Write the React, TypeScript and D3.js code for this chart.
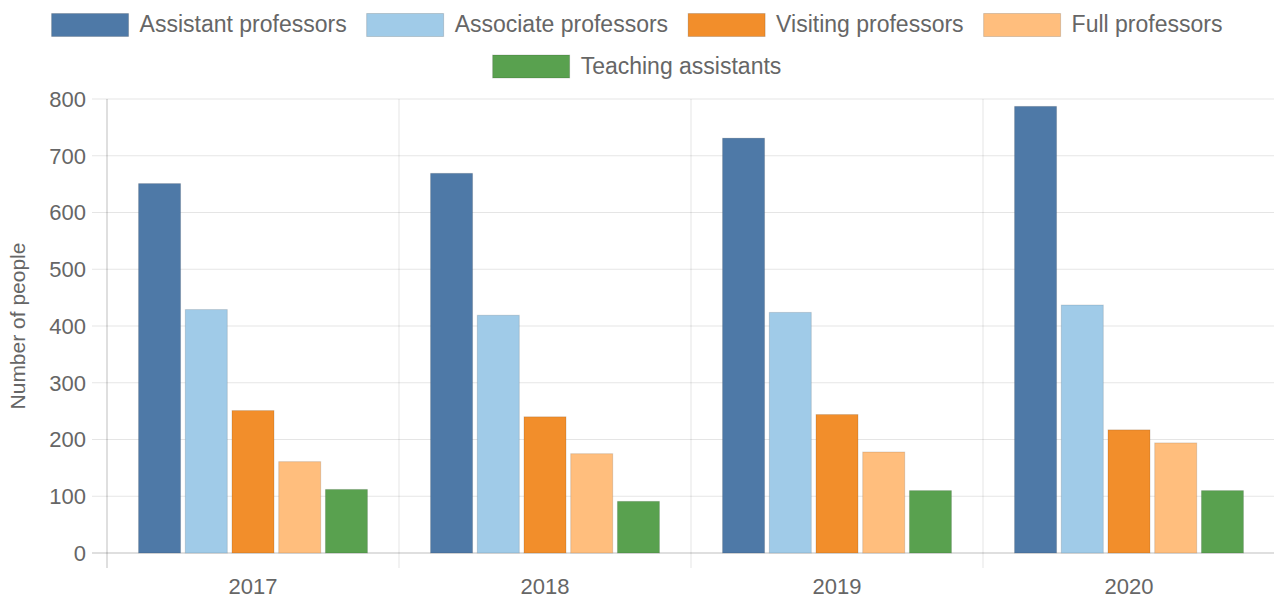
import React, { useMemo } from "react";
import * as d3 from "d3";

const years = ["2017", "2018", "2019", "2020"];
const seriesNames = [
  "Assistant professors",
  "Associate professors",
  "Visiting professors",
  "Full professors",
  "Teaching assistants",
];
const seriesColors = ["#4e79a7", "#a0cbe8", "#f28e2b", "#ffbe7d", "#59a14f"];
const assistant = [651, 669, 731, 787];
const associate = [429, 419, 424, 437];
const visiting = [251, 240, 244, 217];
const full = [161, 175, 178, 194];
const teaching = [112, 91, 110, 110];
const yTicks = [0, 100, 200, 300, 400, 500, 600, 700, 800];
const yTitle = "Number of people";

const W = 1274;
const H = 598;
const FONT = "'Liberation Sans', Arial, Helvetica, sans-serif";
const TEXT = "#666";

function measure(text: string, size: number): number {
  if (typeof document === "undefined") return text.length * size * 0.5;
  const c = document.createElement("canvas").getContext("2d");
  if (!c) return text.length * size * 0.5;
  c.font = `${size}px ${FONT}`;
  return c.measureText(text).width;
}

export default function App() {
  const values = [assistant, associate, visiting, full, teaching];
  const left = 107;
  const right = 1275;
  const top = 99;
  const bottom = 553;

  const x0 = d3.scaleBand<string>().domain(years).range([left, right]).paddingInner(0).paddingOuter(0);
  const groupW = x0.bandwidth() * 0.8;
  const x1 = d3
    .scaleBand<string>()
    .domain(seriesNames)
    .range([0, groupW])
    .paddingInner(0.1)
    .paddingOuter(0.05);
  const y = d3.scaleLinear().domain([0, 800]).range([bottom, top]);

  const legendFont = 23;
  const boxW = 77;
  const boxH = 23;
  const textGap = 11;
  const itemGap = 20;
  const rows = [seriesNames.slice(0, 4), seriesNames.slice(4)];
  const legendRows = useMemo(
    () =>
      rows.map((r) => {
        const widths = r.map((n) => boxW + textGap + measure(n, legendFont));
        const total = widths.reduce((a, b) => a + b, 0) + itemGap * (r.length - 1);
        let cx = (W - total) / 2;
        return r.map((n, i) => {
          const item = { name: n, x: cx };
          cx += widths[i] + itemGap;
          return item;
        });
      }),
    []
  );
  const rowY = [13.5, 55];

  const tickFont = 22;

  return (
    <svg
      width={W}
      height={H}
      style={{ position: "absolute", left: 0, top: 0, background: "#fff" }}
      fontFamily={FONT}
    >
      {/* legend */}
      {legendRows.map((r, ri) =>
        r.map((it) => {
          const si = seriesNames.indexOf(it.name);
          return (
            <g key={it.name}>
              <rect
                x={it.x}
                y={rowY[ri]}
                width={boxW}
                height={boxH}
                fill={seriesColors[si]}
                stroke="rgba(0,0,0,0.15)"
                strokeWidth={1}
              />
              <text
                x={it.x + boxW + textGap}
                y={rowY[ri] + boxH / 2 - 1}
                dy="0.36em"
                fontSize={legendFont}
                fill={TEXT}
              >
                {it.name}
              </text>
            </g>
          );
        })
      )}

      {/* horizontal grid */}
      {yTicks.map((t) => (
        <g key={t}>
          <line
            x1={92}
            x2={W}
            y1={y(t)}
            y2={y(t)}
            stroke={t === 0 ? "rgba(0,0,0,0.25)" : "rgba(0,0,0,0.1)"}
            strokeWidth={1}
          />
          <text
            x={86}
            y={y(t)}
            dy="0.36em"
            textAnchor="end"
            fontSize={tickFont}
            fill={TEXT}
          >
            {t}
          </text>
        </g>
      ))}

      {/* vertical grid at category boundaries */}
      {years.map((yr, i) => (
        <line
          key={yr}
          x1={x0(yr)!}
          x2={x0(yr)!}
          y1={top}
          y2={bottom + 15}
          stroke={i === 0 ? "rgba(0,0,0,0.25)" : "rgba(0,0,0,0.1)"}
          strokeWidth={1}
        />
      ))}

      {/* bars */}
      {years.map((yr, yi) => {
        const gx = x0(yr)! + (x0.bandwidth() - groupW) / 2;
        return (
          <g key={yr}>
            {seriesNames.map((s, si) => {
              const v = values[si][yi];
              return (
                <rect
                  key={s}
                  x={gx + x1(s)!}
                  y={y(v)}
                  width={x1.bandwidth()}
                  height={bottom - y(v)}
                  fill={seriesColors[si]}
                  stroke="rgba(0,0,0,0.12)"
                  strokeWidth={1}
                />
              );
            })}
          </g>
        );
      })}

      {/* x labels */}
      {years.map((yr) => (
        <text
          key={yr}
          x={x0(yr)! + x0.bandwidth() / 2}
          y={594}
          textAnchor="middle"
          fontSize={tickFont}
          fill={TEXT}
        >
          {yr}
        </text>
      ))}

      {/* y title */}
      <text
        transform={`translate(25, ${(top + bottom) / 2}) rotate(-90)`}
        textAnchor="middle"
        fontSize={21}
        fill={TEXT}
      >
        {yTitle}
      </text>
    </svg>
  );
}
